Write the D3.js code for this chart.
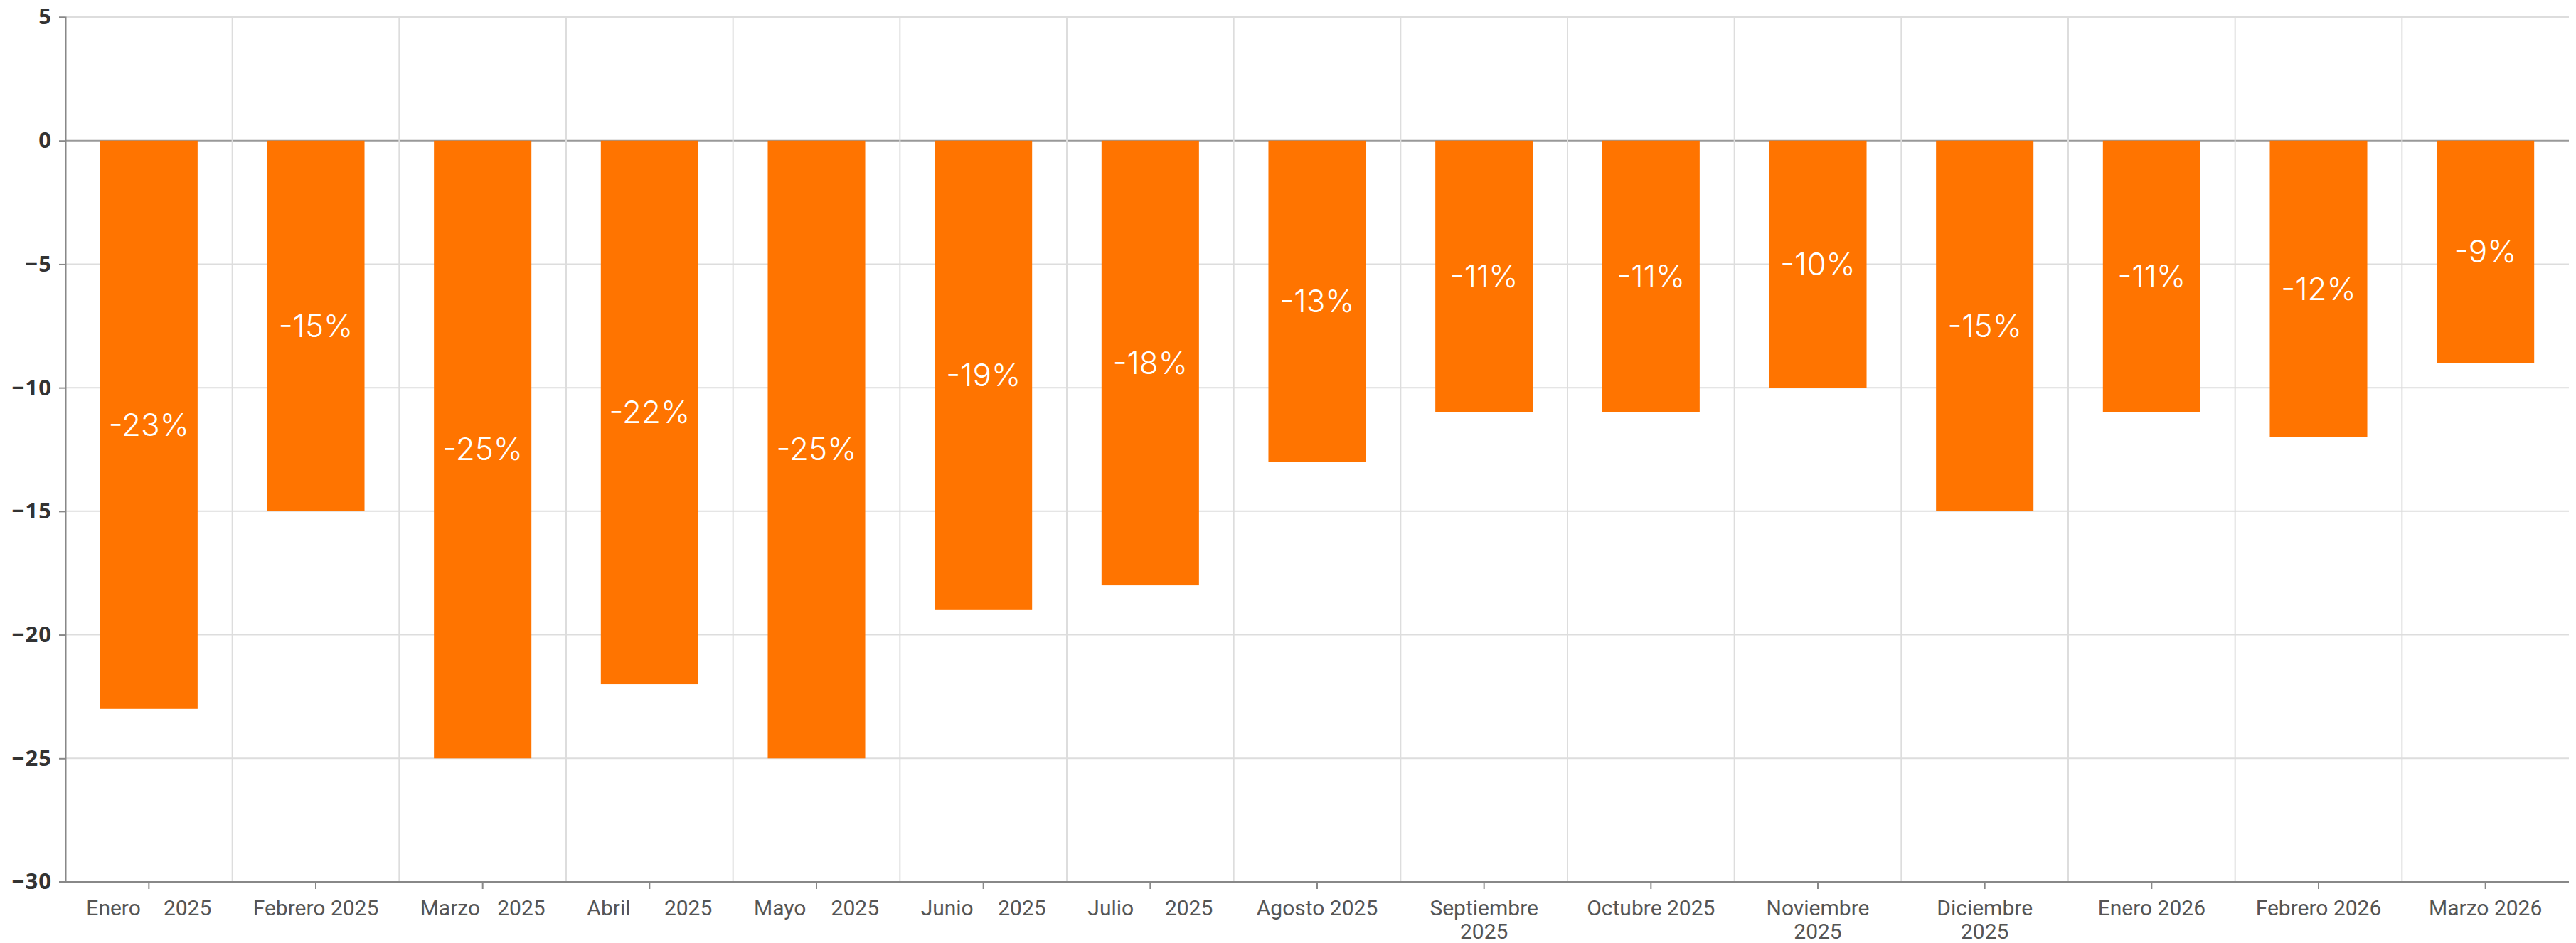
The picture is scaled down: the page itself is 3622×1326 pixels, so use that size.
<!doctype html>
<html lang="es">
<head>
  <meta charset="utf-8">
  <title>Variación mensual</title>
  <style type="text/css">
    body{ margin:0; background:#fff; }
    .xlab{ font-family: "Liberation Sans Narrow", Roboto, sans-serif; font-size:30px; fill:#555; }
    .val{ font-family: Inter, Lato, sans-serif; font-weight:300; font-size:44px; fill:#fff; }
  </style>
</head>
<body>
  <div id="vis"></div>
  <script src="https://cdn.jsdelivr.net/npm/d3@7/dist/d3.min.js"></script>
  <script type="text/javascript">

    var months = ['Enero 2025','Febrero 2025','Marzo 2025','Abril 2025','Mayo 2025','Junio 2025',
      'Julio 2025','Agosto 2025','Septiembre 2025','Octubre 2025','Noviembre 2025','Diciembre 2025',
      'Enero 2026','Febrero 2026','Marzo 2026'];
    var values = [-23,-15,-25,-22,-25,-19,-18,-13,-11,-11,-10,-15,-11,-12,-9];
    var yTicks = [5,0,-5,-10,-15,-20,-25,-30];
    // labels that the original spreads out (justified) or breaks in two lines
    var spread = ['Enero 2025','Marzo 2025','Abril 2025','Mayo 2025','Junio 2025','Julio 2025'];
    var wrapped = ['Septiembre 2025','Noviembre 2025','Diciembre 2025'];

    var W = 3622, H = 1326,
      margin = {top:24, right:10, bottom:86, left:92},
      width = W - margin.left - margin.right,
      height = H - margin.top - margin.bottom;

    var svg = d3.select('#vis').append('svg').attr('width', W).attr('height', H);
    var g = svg.append('g').attr('transform','translate('+margin.left+','+margin.top+')');

    var x = d3.scaleBand().domain(months).range([0,width]).paddingInner(0.416).paddingOuter(0.208);
    var y = d3.scaleLinear().domain([-30,5]).range([height,0]);
    var step = x.step();

    // grid
    g.selectAll('line.hgrid').data(yTicks).enter().append('line')
      .attr('class','hgrid')
      .attr('x1',0).attr('x2',width)
      .attr('y1',function(d){ return y(d); }).attr('y2',function(d){ return y(d); })
      .style('stroke', function(d){ return d === 0 ? '#999' : '#ddd'; })
      .style('stroke-width', 2);

    g.selectAll('line.vgrid').data(months.slice(1)).enter().append('line')
      .attr('class','vgrid')
      .attr('x1',function(d){ return x(d) - step*x.paddingInner()/2; })
      .attr('x2',function(d){ return x(d) - step*x.paddingInner()/2; })
      .attr('y1',0).attr('y2',height)
      .style('stroke','#ddd').style('stroke-width',2);

    // bars
    g.selectAll('rect.bar').data(values).enter().append('rect')
      .attr('class','bar')
      .attr('x',function(d,i){ return x(months[i]); })
      .attr('width', x.bandwidth())
      .attr('y', y(0))
      .attr('height', function(d){ return y(d) - y(0); })
      .style('fill','#ff7400');

    g.selectAll('text.val').data(values).enter().append('text')
      .attr('class','val')
      .attr('x',function(d,i){ return x(months[i]) + x.bandwidth()/2; })
      .attr('y',function(d){ return (y(0)+y(d))/2; })
      .attr('text-anchor','middle')
      .attr('dy','0.35em')
      .text(function(d){ return d + '%'; });

    // y axis
    var yAxis = d3.axisLeft(y).tickValues(yTicks).tickSize(9).tickPadding(10).tickFormat(d3.format('d'));
    var ya = g.append('g').call(yAxis);
    ya.select('.domain').style('stroke','#888').style('stroke-width',2);
    ya.selectAll('.tick line').style('stroke','#888').style('stroke-width',2);
    ya.selectAll('.tick text')
      .style('font-family','"Open Sans", Lato, sans-serif')
      .style('font-weight','700')
      .style('font-size','31px')
      .style('letter-spacing','1px')
      .style('fill','#333');

    // x axis
    var xAxis = d3.axisBottom(x).tickSize(10).tickFormat('');
    var xa = g.append('g').attr('transform','translate(0,'+height+')').call(xAxis);
    xa.select('.domain').attr('d','M-9,0H'+width).style('stroke','#888').style('stroke-width',2);
    xa.selectAll('.tick line').style('stroke','#888').style('stroke-width',2);

    var half = step*0.375;
    months.forEach(function(m){
      var cx = x(m) + x.bandwidth()/2, ly = height + 47;
      var parts = m.split(' ');
      if(spread.indexOf(m) >= 0){
        g.append('text').attr('class','xlab').attr('x',cx-half).attr('y',ly).attr('text-anchor','start').text(parts[0]);
        g.append('text').attr('class','xlab').attr('x',cx+half).attr('y',ly).attr('text-anchor','end').text(parts[1]);
      } else if(wrapped.indexOf(m) >= 0){
        g.append('text').attr('class','xlab').attr('x',cx).attr('y',ly).attr('text-anchor','middle').text(parts[0]);
        g.append('text').attr('class','xlab').attr('x',cx).attr('y',ly+33).attr('text-anchor','middle').text(parts[1]);
      } else {
        g.append('text').attr('class','xlab').attr('x',cx).attr('y',ly).attr('text-anchor','middle').text(m);
      }
    });

  </script>
</body>
</html>
